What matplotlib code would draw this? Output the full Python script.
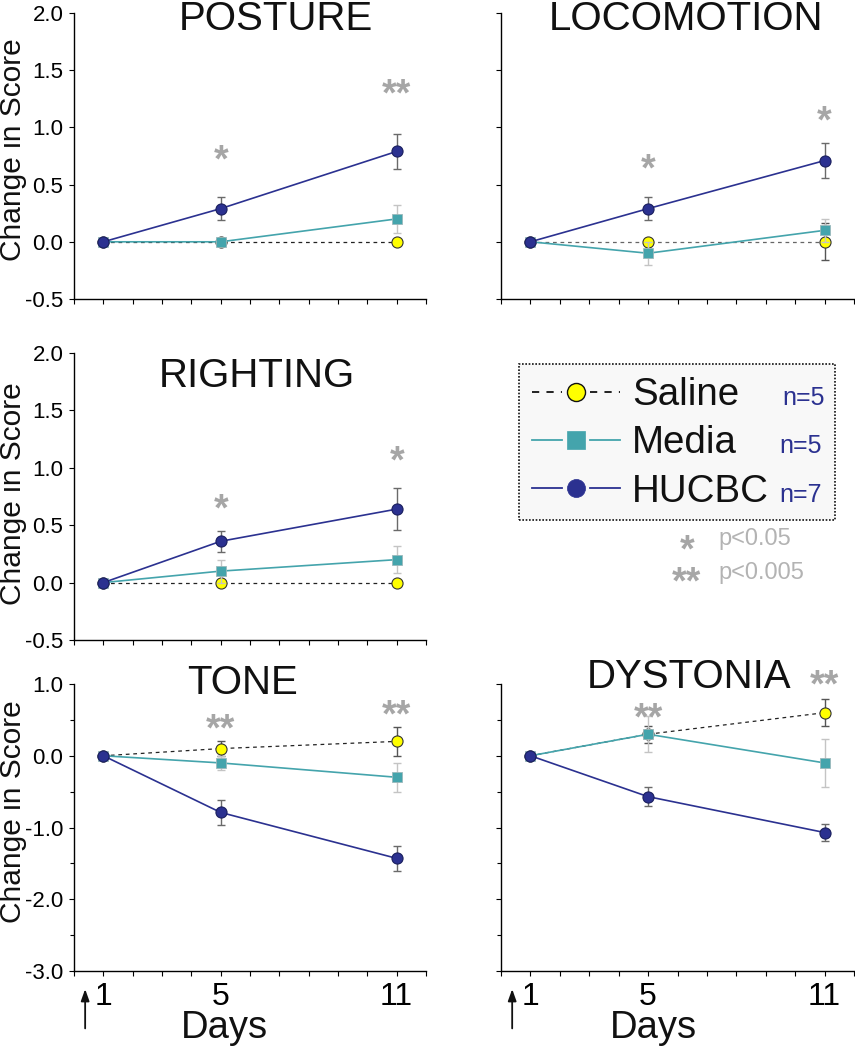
import numpy as np
import matplotlib
matplotlib.use("Agg")
import matplotlib.pyplot as plt
from matplotlib.lines import Line2D
from matplotlib.patches import Rectangle

plt.rcParams['font.family'] = ['Liberation Sans', 'DejaVu Sans']
plt.rcParams['axes.unicode_minus'] = False

# ---------------- data ----------------
days = [1, 5, 11]

posture_saline = [0.0, 0.0, 0.0]
posture_saline_err = [0.0, 0.0, 0.0]
posture_media = [0.0, 0.0, 0.20]
posture_media_err = [0.0, 0.0, 0.12]
posture_hucbc = [0.0, 0.29, 0.79]
posture_hucbc_err = [0.0, 0.10, 0.15]
posture_stars = ['', '*', '**']
posture_star_y = [0.0, 0.80, 1.37]

locomotion_saline = [0.0, 0.0, 0.0]
locomotion_saline_err = [0.0, 0.0, 0.16]
locomotion_media = [0.0, -0.10, 0.10]
locomotion_media_err = [0.0, 0.10, 0.10]
locomotion_hucbc = [0.0, 0.29, 0.71]
locomotion_hucbc_err = [0.0, 0.10, 0.15]
locomotion_stars = ['', '*', '*']
locomotion_star_y = [0.0, 0.72, 1.14]

righting_saline = [0.0, 0.0, 0.0]
righting_saline_err = [0.0, 0.0, 0.0]
righting_media = [0.0, 0.10, 0.20]
righting_media_err = [0.0, 0.10, 0.12]
righting_hucbc = [0.0, 0.36, 0.64]
righting_hucbc_err = [0.0, 0.09, 0.18]
righting_stars = ['', '*', '*']
righting_star_y = [0.0, 0.72, 1.14]

tone_saline = [0.0, 0.10, 0.20]
tone_saline_err = [0.0, 0.10, 0.20]
tone_media = [0.0, -0.10, -0.30]
tone_media_err = [0.0, 0.10, 0.20]
tone_hucbc = [0.0, -0.79, -1.43]
tone_hucbc_err = [0.0, 0.18, 0.17]
tone_stars = ['', '**', '**']
tone_star_y = [0.0, 0.50, 0.70]

dystonia_saline = [0.0, 0.30, 0.60]
dystonia_saline_err = [0.0, 0.12, 0.19]
dystonia_media = [0.0, 0.30, -0.10]
dystonia_media_err = [0.0, 0.25, 0.33]
dystonia_hucbc = [0.0, -0.57, -1.07]
dystonia_hucbc_err = [0.0, 0.13, 0.125]
dystonia_stars = ['', '**', '**']
dystonia_star_y = [0.0, 0.65, 1.12]

group_names = ['Saline', 'Media', 'HUCBC']
group_n = ['n=5', 'n=5', 'n=7']
x_tick_labels = ['1', '5', '11']
ylabel_text = 'Change in Score'
xlabel_text = 'Days'
sig_symbols = ['*', '**']
sig_labels = ['p<0.05', 'p<0.005']

# ---------------- style ----------------
NAVY = '#2b3190'
TEAL = '#44a4ac'
YELLOW = '#ffff00'
STAR = '#a6a6a6'
W, H = 855, 1050

fig = plt.figure(figsize=(W / 100, H / 100), dpi=100)


def px_axes(x0, y0, x1, y1):
    return fig.add_axes([x0 / W, 1 - y1 / H, (x1 - x0) / W, (y1 - y0) / H])


def fx(px):
    return px / W


def fy(py):
    return 1 - py / H


def draw_panel(ax, sal, sal_e, med, med_e, huc, huc_e, stars, star_y,
               ylim, yticks, yminor, ylabels_on, bottom_row, star_dy, sal_color='#222222'):
    d = np.array(days, dtype=float)
    series = [
        (sal, sal_e, dict(color=sal_color, ls=(0, (3, 3)), lw=0.9, marker='o', ms=8,
                          mfc=YELLOW, mec='#333333', mew=0.8), '#555555', 2),
        (med, med_e, dict(color=TEAL, ls='-', lw=1.2, marker='s', ms=7,
                          mfc=TEAL, mec='#9ab8bb', mew=0.6), '#c4c4c4', 3),
        (huc, huc_e, dict(color=NAVY, ls='-', lw=1.2, marker='o', ms=8,
                          mfc=NAVY, mec='#1a1f5e', mew=0.8), '#6a6a6a', 4),
    ]
    for vals, errs, kw, ecol, z in series:
        vals = np.array(vals, dtype=float)
        errs = np.array(errs, dtype=float)
        m = errs > 0
        if m.any():
            ax.errorbar(d[m], vals[m], yerr=errs[m], fmt='none', ecolor=ecol,
                        elinewidth=1.0, capsize=3, capthick=1.0, zorder=z)
        ax.plot(d, vals, zorder=z + 0.5, clip_on=False, **kw)
    for xs, s, sy in zip(days, stars, star_y):
        if s:
            ax.annotate(s, xy=(xs, sy), xytext=(0, star_dy), textcoords='offset points',
                        ha='center', va='baseline', fontsize=27, fontweight='bold',
                        color=STAR, annotation_clip=False, zorder=6)
    ax.set_xlim(0, 12)
    ax.set_ylim(*ylim)
    ax.spines['top'].set_visible(False)
    ax.spines['right'].set_visible(False)
    for sp in ('left', 'bottom'):
        ax.spines[sp].set_linewidth(1.0)
    ax.set_xticks(range(0, 13))
    if bottom_row:
        lbl = ['' for _ in range(13)]
        for dd, t in zip(days, x_tick_labels):
            lbl[dd] = t
        ax.set_xticklabels(lbl, fontsize=23)
    else:
        ax.set_xticklabels([])
    ax.set_yticks(yticks)
    if yminor is not None:
        ax.set_yticks(yminor, minor=True)
    if ylabels_on:
        ax.set_yticklabels(['%.1f' % v for v in yticks], fontsize=16)
    else:
        ax.set_yticklabels([])
    ax.tick_params(axis='x', which='both', direction='out', length=3.6, width=0.8, pad=4)
    ax.tick_params(axis='y', which='major', direction='out', length=3.6, width=0.8, pad=4.0)
    ax.tick_params(axis='y', which='minor', direction='out', length=3.0, width=0.8)
    ax.patch.set_alpha(0)


LX0, LX1 = 74, 426
RX0, RX1 = 501, 854
rows = [(13, 299), (353, 640), (684, 971)]

top_ticks = [-0.5, 0.0, 0.5, 1.0, 1.5, 2.0]
bot_ticks = [-3.0, -2.0, -1.0, 0.0, 1.0]
bot_minor = [-2.5, -1.5, -0.5, 0.5]

ax1 = px_axes(LX0, rows[0][0], LX1, rows[0][1])
draw_panel(ax1, posture_saline, posture_saline_err, posture_media, posture_media_err,
           posture_hucbc, posture_hucbc_err, posture_stars, posture_star_y,
           (-0.5, 2.0), top_ticks, None, True, False, -15)
ax2 = px_axes(RX0, rows[0][0], RX1, rows[0][1])
draw_panel(ax2, locomotion_saline, locomotion_saline_err, locomotion_media, locomotion_media_err,
           locomotion_hucbc, locomotion_hucbc_err, locomotion_stars, locomotion_star_y,
           (-0.5, 2.0), top_ticks, None, False, False, -15, sal_color='#666666')
ax3 = px_axes(LX0, rows[1][0], LX1, rows[1][1])
draw_panel(ax3, righting_saline, righting_saline_err, righting_media, righting_media_err,
           righting_hucbc, righting_hucbc_err, righting_stars, righting_star_y,
           (-0.5, 2.0), top_ticks, None, True, False, -15)
ax4 = px_axes(LX0, rows[2][0], LX1, rows[2][1])
draw_panel(ax4, tone_saline, tone_saline_err, tone_media, tone_media_err,
           tone_hucbc, tone_hucbc_err, tone_stars, tone_star_y,
           (-3.0, 1.0), bot_ticks, bot_minor, True, True, -15)
ax5 = px_axes(RX0, rows[2][0], RX1, rows[2][1])
draw_panel(ax5, dystonia_saline, dystonia_saline_err, dystonia_media, dystonia_media_err,
           dystonia_hucbc, dystonia_hucbc_err, dystonia_stars, dystonia_star_y,
           (-3.0, 1.0), bot_ticks, bot_minor, False, True, -15)

# titles
titles = [('POSTURE', 276, 30), ('LOCOMOTION', 686, 30), ('RIGHTING', 257, 387),
          ('TONE', 242, 694), ('DYSTONIA', 689, 688)]
for t, x, y in titles:
    fig.text(fx(x), fy(y), t, ha='center', va='baseline', fontsize=29, color='#111111')

# y labels
for yc in (150, 494, 812):
    fig.text(fx(13), fy(yc), ylabel_text, rotation=90, ha='center', va='center',
             fontsize=21.5, color='#111111')

# x labels and arrows
for ax, xc in ((ax4, 224), (ax5, 653)):
    fig.text(fx(xc), fy(1038), xlabel_text, ha='center', va='baseline', fontsize=27.5,
             color='#111111')
    ax.annotate('', xy=(0.38, -0.063), xytext=(0.38, -0.2),
                xycoords=ax.get_xaxis_transform(), textcoords=ax.get_xaxis_transform(),
                arrowprops=dict(arrowstyle='-|>,head_length=0.7,head_width=0.25',
                                color='#111111', lw=1.3, shrinkA=0, shrinkB=0),
                annotation_clip=False)

# legend
fig.patches.append(Rectangle((fx(519), fy(520)), fx(835) - fx(519), fy(364) - fy(520),
                             transform=fig.transFigure, facecolor='#f8f8f8',
                             edgecolor='#111111', linestyle=(0, (1, 1)), lw=1.2, zorder=1))
leg_rows = [392, 440, 488]
leg_base = [405, 453, 502]
leg_n_right = [825, 822, 822]
leg_styles = [
    dict(color='#111111', ls=(0, (4, 4)), lw=1.3, marker='o', ms=13, mfc=YELLOW, mec='#111111', mew=1.0),
    dict(color=TEAL, ls='-', lw=1.3, marker='s', ms=12.5, mfc=TEAL, mec=TEAL, mew=0.5),
    dict(color=NAVY, ls='-', lw=1.3, marker='o', ms=13, mfc=NAVY, mec=NAVY, mew=0.5),
]
for name, nn, yr, yb, xr, st in zip(group_names, group_n, leg_rows, leg_base, leg_n_right, leg_styles):
    ls = st['ls']
    fig.add_artist(Line2D([fx(532), fx(562)], [fy(yr), fy(yr)], color=st['color'], ls=ls,
                          lw=st['lw'], transform=fig.transFigure, zorder=3))
    fig.add_artist(Line2D([fx(590), fx(620)], [fy(yr), fy(yr)], color=st['color'], ls=ls,
                          lw=st['lw'], transform=fig.transFigure, zorder=3))
    fig.add_artist(Line2D([fx(576)], [fy(yr)], ls='none', marker=st['marker'], ms=st['ms'],
                          mfc=st['mfc'], mec=st['mec'], mew=st['mew'],
                          transform=fig.transFigure, zorder=4))
    fig.text(fx(632), fy(yb), name, ha='left', va='baseline', fontsize=27.7, color='#111111')
    fig.text(fx(xr), fy(yb), nn, ha='right', va='baseline', fontsize=18, color=NAVY)

# significance key
for sym, lab, xs, yc, yb in zip(sig_symbols, sig_labels, [687, 686], [540, 572], [545, 579]):
    fig.text(fx(xs), fy(yc + 21), sym, ha='center', va='baseline', fontsize=27,
             fontweight='bold', color=STAR)
    fig.text(fx(718), fy(yb), lab, ha='left', va='baseline', fontsize=17, color='#b3b3b3')

fig.savefig('out.png', dpi=100)
